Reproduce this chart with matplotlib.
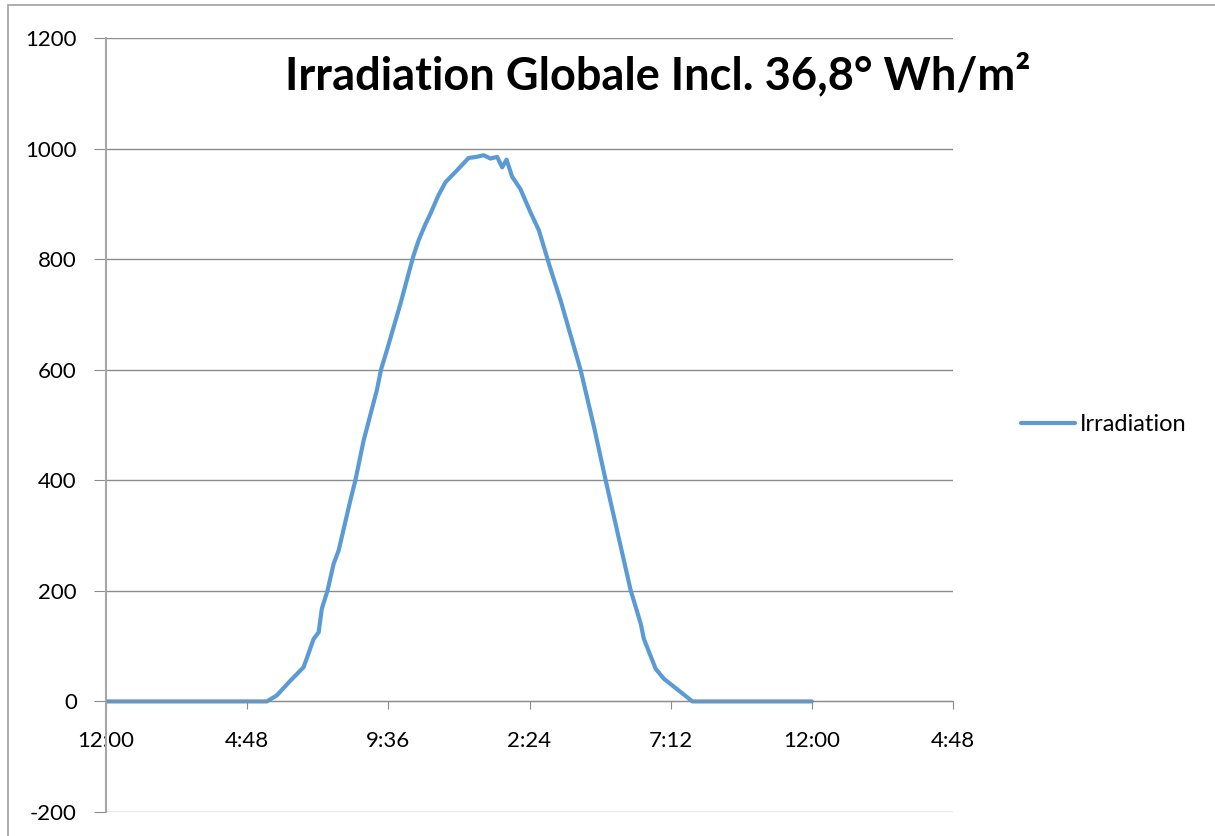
import matplotlib
matplotlib.use("Agg")
import matplotlib.pyplot as plt
from matplotlib.patches import Rectangle

plt.rcParams['font.family'] = ['Lato', 'DejaVu Sans']
plt.rcParams['axes.unicode_minus'] = False

# heures depuis minuit et irradiation (Wh/m²)
heures = [0, 5.47, 5.81, 6.26, 6.72, 7.06, 7.23, 7.34, 7.53, 7.74, 7.91,
          8.31, 8.48, 8.76, 9.21, 9.35, 9.55, 10.01, 10.35, 10.46, 10.63,
          10.85, 11.03, 11.3, 11.54, 11.94, 12.33, 12.6, 12.84, 13.07, 13.30,
          13.47, 13.62, 13.81, 14.09, 14.43, 14.72, 15.11, 15.46, 15.8, 16.14,
          16.6, 16.99, 17.84, 18.18, 18.29, 18.69, 18.97, 19.94, 24.0]
irradiation = [0, 0, 11, 37, 62, 113, 125, 168, 200, 249, 273,
               364, 400, 472, 563, 600, 635, 719, 786, 807, 834,
               862, 882, 915, 939, 961, 983, 985, 988, 982, 985,
               966, 980, 949, 927, 885, 852, 783, 725, 662, 599,
               495, 400, 201, 141, 113, 59, 41, 0, 0]

x_ticks = [0, 4.8, 9.6, 14.4, 19.2, 24.0, 28.8]
x_labels = ["12:00", "4:48", "9:36", "2:24", "7:12", "12:00", "4:48"]
y_ticks = [-200, 0, 200, 400, 600, 800, 1000, 1200]

fig = plt.figure(figsize=(12.15, 8.36), dpi=100)
ax = fig.add_axes([106 / 1215, 1 - 812 / 836, (953 - 106) / 1215, (812 - 38) / 836])

ax.plot(heures, irradiation, color='#5B9BD5', linewidth=3.0, label='Irradiation',
        solid_capstyle='round', solid_joinstyle='round')

ax.set_xlim(0, 28.8)
ax.set_ylim(-200, 1200)
ax.set_xticks(x_ticks)
ax.set_xticklabels(x_labels)
ax.set_yticks(y_ticks)
ax.grid(axis='y', color='#8c8c8c', linewidth=1.0)
ax.set_axisbelow(True)

for s in ['top', 'right']:
    ax.spines[s].set_visible(False)
ax.spines['bottom'].set_position(('data', 0))
ax.spines['bottom'].set_color('#8c8c8c')
ax.spines['left'].set_color('#a6a6a6')
ax.spines['left'].set_linewidth(1.5)

ax.tick_params(axis='x', direction='out', length=6, color='#8c8c8c', pad=15,
               labelsize=16)
ax.tick_params(axis='y', direction='out', length=9, color='#8c8c8c', pad=12,
               labelsize=16)

fig.text(658 / 1215, 1 - 75 / 836, "Irradiation Globale Incl. 36,8° Wh/m²",
         ha='center', va='center', fontsize=32.5, fontweight='bold')

ax.legend(loc='center left', bbox_to_anchor=(1.080, 0.5), frameon=False,
          fontsize=17, handlelength=2.3, handletextpad=0.2, borderpad=0,
          borderaxespad=0)

fig.patches.append(Rectangle((8 / 1215, -0.2), 1.2, 1.2 - 5 / 836,
                             transform=fig.transFigure, fill=False,
                             edgecolor='#a0a0a0', linewidth=1.2))

fig.savefig("out.png", dpi=100)
